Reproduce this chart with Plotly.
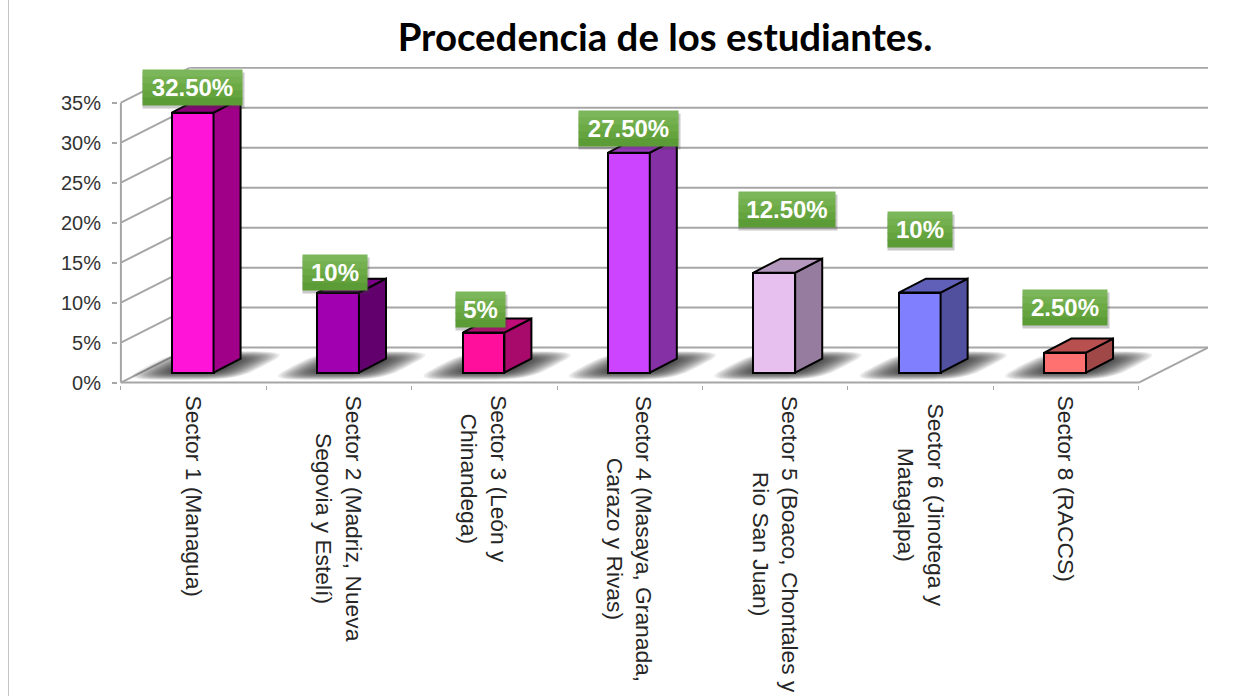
import math
import plotly.graph_objects as go

CATEGORIES = [
    "Sector 1 (Managua)",
    "Sector 2 (Madriz, Nueva<br>Segovia y Estelí)",
    "Sector 3 (León y<br>Chinandega)",
    "Sector 4 (Masaya, Granada,<br>Carazo y Rivas)",
    "Sector 5 (Boaco, Chontales y<br>Rio San Juan)",
    "Sector 6 (Jinotega y<br>Matagalpa)",
    "Sector 8 (RACCS)",
]
VALUES = [32.5, 10, 5, 27.5, 12.5, 10, 2.5]
VALUE_LABELS = ["32.50%", "10%", "5%", "27.50%", "12.50%", "10%", "2.50%"]
Y_TICKS = [0, 5, 10, 15, 20, 25, 30, 35]
FRONT_COLORS = ["#FF14D8", "#A000B0", "#FF0F9B", "#CC44FF", "#E8C0F0", "#8080FF", "#FF7070"]
SIDE_COLORS = ["#A00088", "#62006E", "#A80A6C", "#8530A5", "#967C9E", "#50509E", "#A04848"]
TOP_COLORS = ["#8A0078", "#7A0088", "#C00C78", "#9A38C0", "#B498BE", "#6060B8", "#B85050"]
LABEL_BOX_WIDTHS = [99, 64, 49, 99, 96, 64, 84]
LABEL_DX = [0, -0.02, -0.02, 0, 0.09, 0, 0]
LABEL_LIFT = [3.1, 2.5, 2.9, 3.0, 7.9, 7.9, 5.6]
CAT_LABEL_SHIFT = [-11, -11, -11, -11, -11, -19, -11]
LABEL_BANDS = ["#7CB65A", "#74B04F", "#6BAA45", "#64A33E", "#5C9C37"]

PX_X = 145.4
PX_Y = 8.0
X0 = -0.02
Y0 = -0.3
X_MAX = 7.476
Y_MAX = 39.46
WALL_DX = 0.476
WALL_DY = 4.375
BAR_L = 0.35
BAR_W = 0.287
BAR_BASE = 1.25
DEPTH_X = 0.186
DEPTH_Y = 1.75
GRID = "#A6A6A6"

shapes = []


def line(x0, y0, x1, y1, color=GRID, width=2):
    shapes.append(dict(type="line", xref="x", yref="y", x0=x0, y0=y0, x1=x1, y1=y1,
                       line=dict(color=color, width=width), layer="below"))


for t in Y_TICKS:
    line(0, t, WALL_DX, t + WALL_DY)
    line(WALL_DX, t + WALL_DY, 7 + WALL_DX, t + WALL_DY)
line(0, 0, 0, 35)
line(WALL_DX, WALL_DY, WALL_DX, 35 + WALL_DY, "#D9D9D9", 1)
line(0, 0, 7, 0)
line(7, 0, 7 + WALL_DX, WALL_DY)

# soft floor shadows: stacked translucent rounded parallelograms round each bar's footprint
N_LAYERS = 18
N_POINTS = 28
for i in range(len(VALUES)):
    cx = i + BAR_L + BAR_W / 2 + DEPTH_X / 2
    cy = BAR_BASE + DEPTH_Y / 2
    for k in range(N_LAYERS):
        s = k / (N_LAYERS - 1)
        hw = 0.14 + 0.26 * (1 - s)
        hd = 0.75 + 1.05 * (1 - s)
        pts = []
        for p in range(N_POINTS):
            a = 2 * math.pi * p / N_POINTS
            ca, sa = math.cos(a), math.sin(a)
            u = math.copysign(abs(ca) ** 0.5, ca)
            w = math.copysign(abs(sa) ** 0.5, sa)
            yy = cy + hd * w
            xx = cx + hw * u + (hd * w) * DEPTH_X / DEPTH_Y
            pts.append(f"{xx} {yy}")
        path = "M " + " L ".join(pts) + " Z"
        shapes.append(dict(type="path", xref="x", yref="y", path=path, layer="below",
                           fillcolor="rgba(20,20,20,0.075)", line=dict(width=0)))

# page rule on the left
shapes.append(dict(type="line", xref="paper", yref="paper", x0=(8.5 - 118) / 1090, x1=(8.5 - 118) / 1090,
                   y0=-1, y1=1.3, line=dict(color="#C4C4C4", width=1)))

fig = go.Figure()
centers = [i + BAR_L + BAR_W / 2 for i in range(len(VALUES))]
fig.add_trace(go.Bar(
    x=centers, y=VALUES, base=BAR_BASE, width=BAR_W,
    marker=dict(color=FRONT_COLORS, line=dict(color="black", width=2)),
    customdata=CATEGORIES, hovertemplate="%{customdata}: %{y}%<extra></extra>",
    showlegend=False,
))

for i, v in enumerate(VALUES):
    xl = i + BAR_L
    xr = xl + BAR_W
    bot = BAR_BASE
    top = BAR_BASE + v
    fig.add_trace(go.Scatter(
        x=[xr, xr + DEPTH_X, xr + DEPTH_X, xr, xr],
        y=[bot, bot + DEPTH_Y, top + DEPTH_Y, top, bot],
        mode="lines", fill="toself", fillcolor=SIDE_COLORS[i],
        line=dict(color="black", width=2), hoverinfo="skip", showlegend=False,
    ))
    fig.add_trace(go.Scatter(
        x=[xl, xr, xr + DEPTH_X, xl + DEPTH_X, xl],
        y=[top, top, top + DEPTH_Y, top + DEPTH_Y, top],
        mode="lines", fill="toself", fillcolor=TOP_COLORS[i],
        line=dict(color="black", width=2), hoverinfo="skip", showlegend=False,
    ))

annotations = []
for i, v in enumerate(VALUES):
    ax = centers[i] + LABEL_DX[i]
    ay = BAR_BASE + v + LABEL_LIFT[i]
    annotations.append(dict(
        x=ax, y=ay, xref="x", yref="y", text="", showarrow=False,
        width=LABEL_BOX_WIDTHS[i] + 2, height=35, bgcolor="rgba(60,60,60,0.28)",
        xshift=1, yshift=-3, borderpad=0,
    ))
    for b, band in enumerate(LABEL_BANDS):
        annotations.append(dict(
            x=ax, y=ay, xref="x", yref="y", text="", showarrow=False,
            width=LABEL_BOX_WIDTHS[i], height=7, bgcolor=band, borderpad=0,
            yshift=14 - 7 * b,
        ))
    annotations.append(dict(
        x=ax, y=ay, xref="x", yref="y", text=f"<b>{VALUE_LABELS[i]}</b>", showarrow=False,
        width=LABEL_BOX_WIDTHS[i], height=35, borderpad=0,
        font=dict(family="Liberation Sans, Arial, sans-serif", size=24, color="white"),
    ))
    annotations.append(dict(
        x=i + 0.5, y=0, xref="x", yref="y", text=CATEGORIES[i], showarrow=False,
        textangle=90, xanchor="center", yanchor="top", align="center",
        yshift=CAT_LABEL_SHIFT[i],
        font=dict(family="Liberation Sans, Arial, sans-serif", size=22.8, color="#262626"),
    ))

fig.update_layout(
    width=1259, height=696,
    margin=dict(l=118, r=1259 - 118 - 1090, t=67, b=696 - 385),
    paper_bgcolor="white", plot_bgcolor="white",
    showlegend=False, bargap=0,
    title=dict(text="<b>Procedencia de los estudiantes.</b>", x=665 / 1259, xanchor="center",
               y=1 - 38 / 696, yanchor="middle",
               font=dict(family="Lato, Carlito, sans-serif", size=38.4, color="black")),
    xaxis=dict(range=[X0, X_MAX], tickmode="array", tickvals=list(range(8)), showticklabels=False,
               ticks="outside", ticklen=4, tickcolor=GRID, tickwidth=1, showgrid=False, zeroline=False,
               showline=False),
    yaxis=dict(range=[Y0, Y_MAX], tickmode="array", tickvals=Y_TICKS, ticktext=[f"{t}%" for t in Y_TICKS],
               ticks="outside", ticklen=5, tickcolor=GRID, tickwidth=2, showgrid=False, zeroline=False,
               showline=False, ticklabelstandoff=7,
               tickfont=dict(family="Liberation Sans, Arial, sans-serif", size=20, color="#333333")),
    shapes=shapes, annotations=annotations,
)

fig.write_html("out.html", config={"displayModeBar": False},
               post_script="document.body.style.margin='0';document.body.style.overflow='hidden';")
